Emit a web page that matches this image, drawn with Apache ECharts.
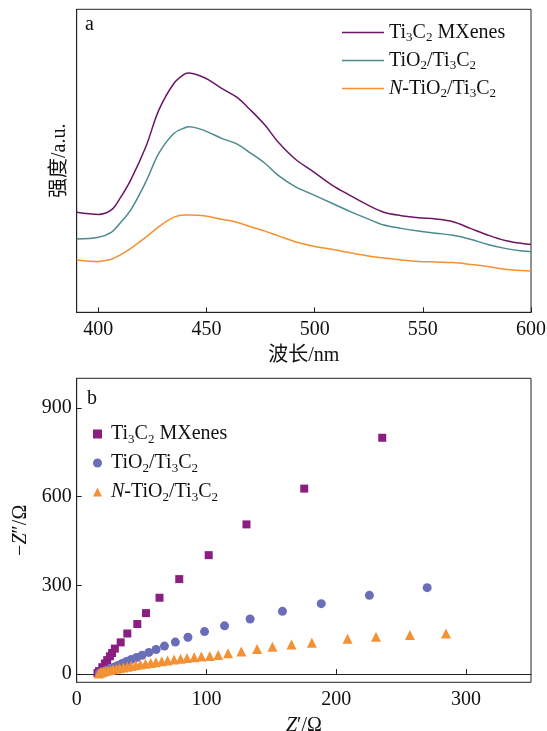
<!DOCTYPE html>
<html>
<head>
<meta charset="utf-8">
<script src="https://cdn.jsdelivr.net/npm/echarts@6/dist/echarts.min.js"></script>
<style>
html,body{margin:0;padding:0;background:#fff;}
#c{width:547px;height:731px;}
</style>
</head>
<body>
<div id="c"></div>
<script>
// ---- Panel a: PL spectra ----
const wavelength = [390,400,406,410,415,422,428,435,440,442,446,451,457,464,470,477,483,491,499,508,516,524,532,540,548,556,564,572,580,588,596,600];
const plTi3C2 = [33.0,32.3,33.8,37.6,43.7,54.7,66.8,75.6,78.7,79.0,78.3,76.7,73.9,71.0,67.0,61.8,56.3,50.6,46.6,42.0,38.7,35.6,33.0,31.9,31.2,30.8,29.9,27.7,25.5,23.7,22.7,22.4];
const plTiO2 = [24.2,24.8,26.4,29.4,33.8,43.1,52.5,59.1,60.9,61.2,60.7,59.4,57.4,55.6,52.7,49.2,45.3,41.5,38.9,36.0,33.4,31.0,28.8,27.7,26.8,26.1,25.4,24.1,22.4,21.1,20.2,20.0];
const plNTiO2 = [17.3,16.8,17.5,18.9,21.1,24.8,28.3,31.4,32.1,32.1,32.0,31.6,30.7,29.7,28.3,26.8,25.3,23.3,21.9,20.8,19.7,18.7,17.9,17.3,16.8,16.6,16.4,15.8,15.1,14.2,13.8,13.6];
const waveTicks = [400,450,500,550,600];

// ---- Panel b: Nyquist plots [Z', -Z''] ----
const eisTi3C2 = [[16,3],[17.2,9.8],[19.7,23],[21.7,35.6],[23.5,47],[25.6,60],[27.3,71],[29.4,86],[33.9,107],[39,137],[46.7,169],[53.4,206],[63.8,258],[79,321],[101.7,402],[130.8,506],[175.3,627],[235.4,799]];
const eisTiO2 = [[17.5,3],[20.2,8.6],[22.7,13],[25.6,17.6],[28.6,23],[31.7,28.8],[35,35.6],[38.4,42.3],[42,49],[46.1,55.7],[50.4,63.6],[55.6,73],[61.2,83],[67.6,94.5],[76,108],[85.7,124.5],[98.5,143.5],[113.9,163],[133.6,186],[158.5,212],[188.4,238],[225.5,266],[270,292]];
const eisNTiO2 = [[17,2],[18,4],[19,6],[20.5,8],[22,10],[24,12],[26,14],[28,16],[30.5,18],[33,20],[36,22],[39,24.5],[42,27],[45.5,29.5],[49,32],[53,35],[57,37.5],[61,40],[65.5,43],[70,46],[75,49],[80,52],[85,54.5],[90.5,57],[96,59.5],[102.5,61],[109,64],[116.6,70],[126.8,76],[139,85],[150.8,92.5],[165.5,100],[181.2,106],[208.7,119],[230.6,126],[256.7,132],[284.5,137]];
const zTicks = [0,300,600,900];

const names = ['Ti3C2 MXenes','TiO2/Ti3C2','N-TiO2/Ti3C2'];
const richNames = {
  'Ti3C2 MXenes': '{n|Ti}{s|3}{n|C}{s|2}{n| MXenes}',
  'TiO2/Ti3C2': '{n|TiO}{s|2}{n|/Ti}{s|3}{n|C}{s|2}',
  'N-TiO2/Ti3C2': '{i|N}{n|-TiO}{s|2}{n|/Ti}{s|3}{n|C}{s|2}'
};
const SERIF = '"Liberation Serif","Times New Roman",serif';
const CJK = '"Liberation Serif","Noto Sans CJK SC",serif';
const FS = 20;
const rich = {
  n: {fontFamily: SERIF, fontSize: FS, color: '#111', lineHeight: 22},
  i: {fontFamily: SERIF, fontSize: FS, fontStyle: 'italic', color: '#111', lineHeight: 22},
  s: {fontFamily: SERIF, fontSize: 13, color: '#111', lineHeight: 22, verticalAlign: 'bottom', padding: [0,0,-1,0]}
};

const lineColors = ['#6B1665','#4A8A8C','#F7902F'];
const dotColors = ['#8B1F81','#6A6DB8','#F39235'];

const chart = echarts.init(document.getElementById('c'), null, {renderer: 'canvas'});
const axisLineStyle = {lineStyle: {color: '#222', width: 1}};
chart.setOption({
  animation: false,
  backgroundColor: '#fff',
  grid: [
    {left: 76.7, right: 16, top: 9.3, height: 303, show: true, borderColor: '#222', borderWidth: 1, outerBoundsMode: 'none', containLabel: false},
    {left: 76.7, right: 16, top: 378.3, height: 304, show: true, borderColor: '#222', borderWidth: 1, outerBoundsMode: 'none', containLabel: false}
  ],
  xAxis: [
    {gridIndex: 0, type: 'value', min: 390, max: 600,
     axisLine: axisLineStyle, splitLine: {show: false},
     axisTick: {inside: true, length: 5, customValues: waveTicks, lineStyle: {color: '#222'}},
     axisLabel: {customValues: waveTicks, margin: 7, fontFamily: SERIF, fontSize: FS, color: '#111'},
     name: '波长/nm', nameLocation: 'middle', nameGap: 33,
     nameTextStyle: {fontFamily: CJK, fontSize: FS, color: '#111'}},
    {gridIndex: 1, type: 'value', min: 0, max: 350, interval: 100,
     axisLine: axisLineStyle, splitLine: {show: false},
     axisTick: {inside: true, length: 5, lineStyle: {color: '#222'}},
     axisLabel: {margin: 7, fontFamily: SERIF, fontSize: FS, color: '#111', showMaxLabel: false},
     name: '{i|Z}{n|′/Ω}', nameLocation: 'middle', nameGap: 32,
     nameTextStyle: {rich: rich}}
  ],
  yAxis: [
    {gridIndex: 0, type: 'value', min: 0, max: 100,
     axisLine: {show: true, lineStyle: {color: '#222'}}, splitLine: {show: false},
     axisTick: {show: false}, axisLabel: {show: false},
     name: '强度/a.u.', nameLocation: 'middle', nameGap: 7,
     nameTextStyle: {fontFamily: CJK, fontSize: FS, color: '#111'}},
    {gridIndex: 1, type: 'value', min: -28, max: 1000,
     axisLine: {show: true, lineStyle: {color: '#222'}}, splitLine: {show: false},
     axisTick: {inside: true, length: 5, customValues: zTicks, lineStyle: {color: '#222'}},
     axisLabel: {customValues: zTicks, margin: 5, fontFamily: SERIF, fontSize: FS, color: '#111'},
     name: '{n|−}{i|Z}{n|″/Ω}', nameLocation: 'middle', nameGap: 41,
     nameTextStyle: {rich: rich}}
  ],
  legend: [
    {orient: 'vertical', left: 337, top: 17.5, itemGap: 6, itemWidth: 42, itemHeight: 1.6,
     icon: 'rect',
     data: names.map(n => 'a:' + n),
     formatter: nm => richNames[nm.slice(2)],
     textStyle: {rich: rich}},
    {orient: 'vertical', left: 88, top: 419, itemGap: 7, itemWidth: 9, itemHeight: 9,
     data: [{name: 'b:' + names[0], icon: 'rect'}, {name: 'b:' + names[1], icon: 'circle'}, {name: 'b:' + names[2], icon: 'triangle'}],
     formatter: nm => richNames[nm.slice(2)],
     textStyle: {rich: rich, padding: [0,0,0,4]}}
  ],
  graphic: [
    {type: 'text', left: 85, top: 15, style: {text: 'a', font: '20px "Liberation Serif"', fill: '#111'}},
    {type: 'text', left: 87, top: 389, style: {text: 'b', font: '20px "Liberation Serif"', fill: '#111'}}
  ],
  series: [
    {name: 'a:' + names[0], type: 'line', xAxisIndex: 0, yAxisIndex: 0, smooth: 0.35, showSymbol: false,
     data: wavelength.map((w, i) => [w, plTi3C2[i]]), lineStyle: {color: lineColors[0], width: 1.5}, itemStyle: {color: lineColors[0]}},
    {name: 'a:' + names[1], type: 'line', xAxisIndex: 0, yAxisIndex: 0, smooth: 0.35, showSymbol: false,
     data: wavelength.map((w, i) => [w, plTiO2[i]]), lineStyle: {color: lineColors[1], width: 1.5}, itemStyle: {color: lineColors[1]}},
    {name: 'a:' + names[2], type: 'line', xAxisIndex: 0, yAxisIndex: 0, smooth: 0.35, showSymbol: false,
     data: wavelength.map((w, i) => [w, plNTiO2[i]]), lineStyle: {color: lineColors[2], width: 1.5}, itemStyle: {color: lineColors[2]}},
    {name: 'b:' + names[0], type: 'scatter', xAxisIndex: 1, yAxisIndex: 1, symbol: 'rect', symbolSize: 8,
     data: eisTi3C2, itemStyle: {color: dotColors[0], opacity: 1}},
    {name: 'b:' + names[1], type: 'scatter', xAxisIndex: 1, yAxisIndex: 1, symbol: 'circle', symbolSize: 9,
     data: eisTiO2, itemStyle: {color: dotColors[1], opacity: 1}},
    {name: 'b:' + names[2], type: 'scatter', xAxisIndex: 1, yAxisIndex: 1, symbol: 'triangle', symbolSize: 10,
     data: eisNTiO2, itemStyle: {color: dotColors[2], opacity: 1}}
  ]
});
</script>
</body>
</html>
